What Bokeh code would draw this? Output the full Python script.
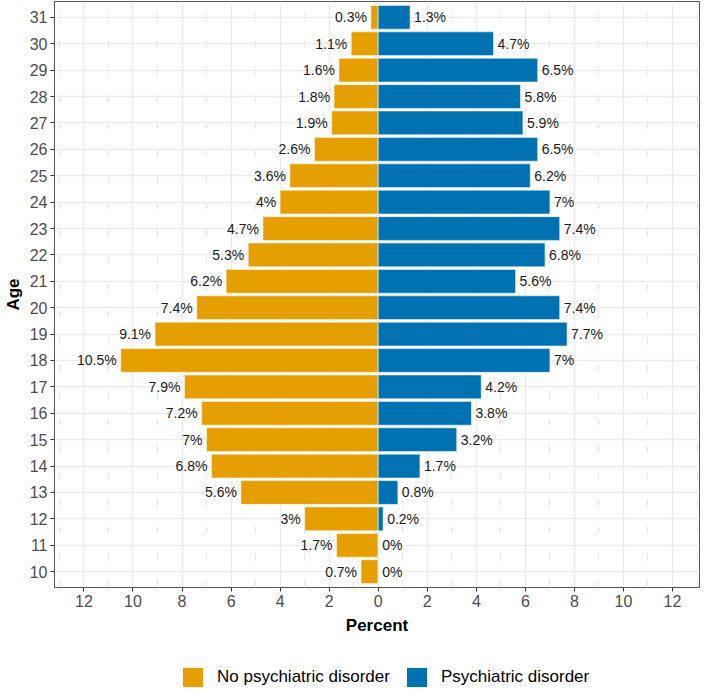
from bokeh.plotting import figure
from bokeh.layouts import column
from bokeh.models import ColumnDataSource, FixedTicker, Legend, LegendItem, Range1d
from bokeh.core.properties import value
from bokeh.embed import file_html
from bokeh.resources import INLINE

ages = list(range(10, 32))
no_disorder = [0.7, 1.7, 3, 5.6, 6.8, 7, 7.2, 7.9, 10.5, 9.1, 7.4, 6.2, 5.3, 4.7, 4, 3.6, 2.6, 1.9, 1.8, 1.6, 1.1, 0.3]
disorder = [0, 0, 0.2, 0.8, 1.7, 3.2, 3.8, 4.2, 7, 7.7, 7.4, 5.6, 6.8, 7.4, 7, 6.2, 6.5, 5.9, 5.8, 6.5, 4.7, 1.3]
x_ticks = [-12, -10, -8, -6, -4, -2, 0, 2, 4, 6, 8, 10, 12]
x_minor = [-13, -11, -9, -7, -5, -3, -1, 1, 3, 5, 7, 9, 11, 13]
series_names = ["No psychiatric disorder", "Psychiatric disorder"]

FONT = "Liberation Sans"
ORANGE = "#E69F00"
BLUE = "#0072B2"

src_no = ColumnDataSource(dict(age=ages, left=[-v for v in no_disorder], right=[0] * len(ages),
                               lab=[f"{v:g}%" for v in no_disorder]))
src_d = ColumnDataSource(dict(age=ages, left=[0] * len(ages), right=disorder,
                              lab=[f"{v:g}%" for v in disorder]))

p = figure(frame_width=645, frame_height=586, output_backend="svg", toolbar_location=None,
           x_range=Range1d(-13.2, 13.1), y_range=Range1d(9.4, 31.6),
           min_border_left=0, min_border_right=3, min_border_top=1, min_border_bottom=0)

p.hbar(y="age", left="left", right="right", height=0.9, source=src_no,
       fill_color=ORANGE, line_color="white", line_width=0.5)
p.hbar(y="age", left="left", right="right", height=0.9, source=src_d,
       fill_color=BLUE, line_color="white", line_width=0.5)

p.text(x="left", y="age", text="lab", source=src_no, text_align="right", text_baseline="middle",
       x_offset=-4, text_font=value(FONT), text_font_size="14px", text_color="#1a1a1a")
p.text(x="right", y="age", text="lab", source=src_d, text_align="left", text_baseline="middle",
       x_offset=4, text_font=value(FONT), text_font_size="14px", text_color="#1a1a1a")

p.xaxis.ticker = FixedTicker(ticks=x_ticks, minor_ticks=x_minor)
p.xaxis.major_label_overrides = {t: str(abs(t)) for t in x_ticks}
p.yaxis.ticker = FixedTicker(ticks=ages)

for ax in (p.xaxis, p.yaxis):
    ax.axis_line_color = None
    ax.major_tick_line_color = "#333333"
    ax.major_tick_out = 4
    ax.major_tick_in = 0
    ax.minor_tick_line_color = None
    ax.major_label_text_font = FONT
    ax.major_label_text_font_size = "16px"
    ax.major_label_text_color = "#4D4D4D"
    ax.axis_label_text_font = FONT
    ax.axis_label_text_font_size = "17px"
    ax.axis_label_text_font_style = "bold"
    ax.axis_label_text_color = "black"
    ax.major_label_standoff = 3

p.xaxis.axis_label = "Percent"
p.yaxis.axis_label = "Age"
p.xaxis.axis_label_standoff = 6
p.yaxis.axis_label_standoff = 4

p.xgrid.grid_line_color = "#EBEBEB"
p.xgrid.grid_line_width = 1.4
p.xgrid.minor_grid_line_color = "#E6E6E6"
p.xgrid.minor_grid_line_dash = "7 20"
p.xgrid.minor_grid_line_width = 1
p.ygrid.grid_line_color = "#EBEBEB"
p.ygrid.grid_line_width = 1.4

p.outline_line_color = "#555555"
p.outline_line_width = 1
p.background_fill_color = "white"

# legend strip below the chart (its key glyphs use the same data, out of this strip's view)
lg = figure(width=692, height=52, output_backend="svg", toolbar_location=None,
            x_axis_location=None, y_axis_location=None,
            x_range=Range1d(100, 101), y_range=Range1d(100, 101),
            min_border=0, outline_line_color=None)
lg.xgrid.visible = False
lg.ygrid.visible = False
k1 = lg.hbar(y="age", left="left", right="right", height=0.9, source=src_no,
             fill_color=ORANGE, line_color=None)
k2 = lg.hbar(y="age", left="left", right="right", height=0.9, source=src_d,
             fill_color=BLUE, line_color=None)

legend = Legend(items=[LegendItem(label=series_names[0], renderers=[k1], index=0),
                       LegendItem(label=series_names[1], renderers=[k2], index=0)],
                orientation="horizontal", location=(126, 0),
                label_text_font=FONT, label_text_font_size="17px", label_text_color="black",
                glyph_width=25, glyph_height=24, label_standoff=12, spacing=14,
                border_line_color=None, background_fill_alpha=0, margin=0, padding=0)
lg.add_layout(legend, "center")

layout = column(p, lg, spacing=0)
open("out.html", "w").write(file_html(layout, INLINE))
